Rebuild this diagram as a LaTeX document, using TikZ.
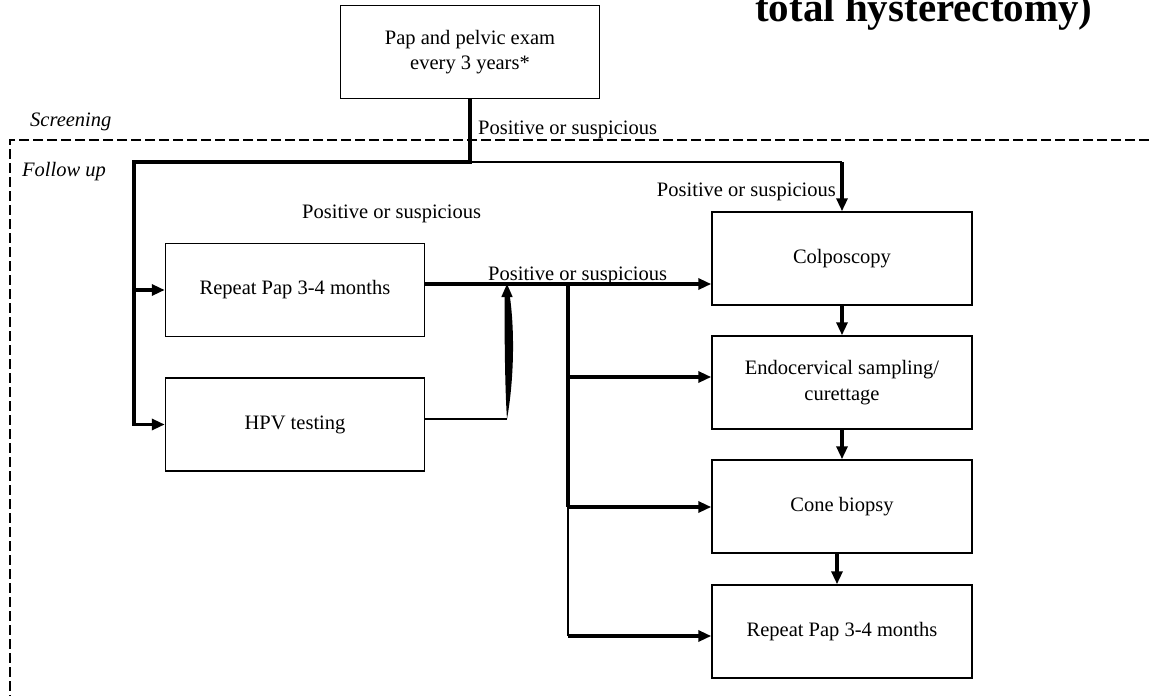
\documentclass[tikz,border=0pt]{standalone}
\usepackage{fontspec}
\setmainfont{Liberation Serif}
\usetikzlibrary{arrows.meta}
\begin{document}
\begin{tikzpicture}[x=1pt,y=-1pt,
  box/.style={draw, line width=1.5pt, minimum width=259pt, minimum height=93pt, inner sep=0pt, align=center, font=\fontsize{20.5}{25.5}\selectfont},
  lbl/.style={font=\fontsize{20.5}{25}\selectfont, inner sep=0pt},
  thickln/.style={line width=3.2pt},
  thinln/.style={line width=1.5pt},
  arr/.style={-{Triangle[length=13pt,width=11pt]}},
  sep/.style={line width=2.2pt, dash pattern=on 10pt off 4pt}
  ]
\useasboundingbox (0,0) rectangle (1149,696);
% title (clipped at top)
\node[anchor=base west, inner sep=0pt, font=\bfseries\fontsize{41}{41}\selectfont] (title) at (755,21) {total hysterectomy)};
% separator
\draw[sep] (1149,140) -- (10,140) -- (10,696);
\node[lbl, anchor=base west, font=\itshape\fontsize{20.5}{25}\selectfont] (scr) at (30,126) {Screening};
\node[lbl, anchor=base west, font=\itshape\fontsize{20.5}{25}\selectfont] (fol) at (22,176) {Follow up};
% boxes
\node[box] (pap) at (470,52) {Pap and pelvic exam\\every 3 years*};
\node[box] (rp1) at (295,290) {Repeat Pap 3-4 months};
\node[box] (hpv) at (295,424.5) {HPV testing};
\node[box, minimum width=260pt] (colpo) at (842,258.5) {Colposcopy};
\node[box, minimum width=260pt] (endo) at (842,382.5) {Endocervical sampling/\\curettage};
\node[box, minimum width=260pt] (cone) at (842,506.5) {Cone biopsy};
\node[box, minimum width=260pt] (rp2) at (842,631.5) {Repeat Pap 3-4 months};
% labels
\node[lbl, anchor=base west] (l1) at (478,134) {Positive or suspicious};
\node[lbl, anchor=base east] (l2) at (836,196) {Positive or suspicious};
\node[lbl, anchor=base west] (l3) at (302,218) {Positive or suspicious};
\node[lbl, anchor=base west] (l4) at (488,280) {Positive or suspicious};
% junction coordinates
\coordinate (pd) at (470,162);
\coordinate (lt) at (134,162);
\coordinate (lb) at (134,424.5);
\coordinate (ct) at (842,162);
\coordinate (m1) at (424.5,284);
\coordinate (j1) at (507,284);
\coordinate (j2) at (568,284);
\coordinate (j3) at (568,377);
\coordinate (j4) at (568,507);
\coordinate (j5) at (568,636);
\coordinate (h1) at (424.5,419);
\coordinate (h2) at (507,419);
% screening to follow up
\draw[thickln] (pap.south) -- (pd);
\draw[thickln, line cap=rect] (pd) -- (lt) -- (lb);
\draw[thinln, line width=2pt] (pd) -- (ct);
\draw[thickln, arr] (ct) -- (colpo.north);
\draw[thickln, arr] (lt |- rp1.west) -- (rp1.west);
\draw[thickln, arr] (lb) -- (hpv.west);
% repeat pap to colposcopy
\draw[thickln, arr] (m1) -- (m1 -| colpo.west);
% HPV to junction
\draw[thinln] (h1) -- (h2);
\fill (h2) .. controls (505,390) and (504.5,340) .. (504.5,294) -- (509.5,294) .. controls (515,330) and (514,380) .. (h2);
\draw[line width=1.5pt, arr] (507,300) -- (j1);
% vertical branch
\draw[thickln] (j2) -- (j4);
\draw[thinln] (j4) -- (j5);
\draw[thickln, arr] (j3) -- (j3 -| endo.west);
\draw[thickln, arr] (j4) -- (j4 -| cone.west);
\draw[thickln, arr] (j5) -- (j5 -| rp2.west);
% right column
\draw[thickln, arr] (colpo.south) -- (endo.north);
\draw[thickln, arr] (endo.south) -- (cone.north);
\draw[thickln, arr] ([xshift=-5pt]cone.south) -- ([xshift=-5pt]rp2.north);
\end{tikzpicture}
\end{document}
